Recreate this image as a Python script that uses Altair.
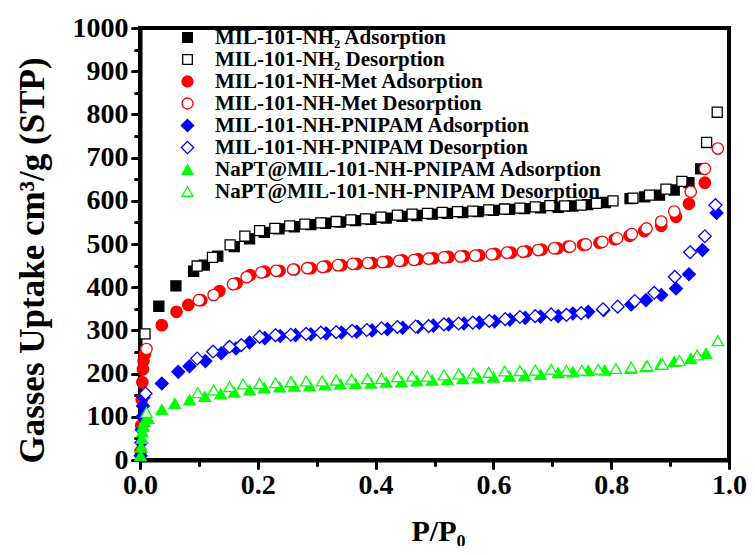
import altair as alt
import pandas as pd

FONT = "Liberation Serif"

names = [
    "MIL-101-NH₂ Adsorption",
    "MIL-101-NH₂ Desorption",
    "MIL-101-NH-Met Adsorption",
    "MIL-101-NH-Met Desorption",
    "MIL-101-NH-PNIPAM Adsorption",
    "MIL-101-NH-PNIPAM Desorption",
    "NaPT@MIL-101-NH-PNIPAM Adsorption",
    "NaPT@MIL-101-NH-PNIPAM Desorption",
]
SQ = "M-0.88,-0.88L0.88,-0.88L0.88,0.88L-0.88,0.88Z"
DI = "M0,-1.12L1.12,0L0,1.12L-1.12,0Z"
shapes = [SQ, SQ, "circle", "circle", DI, DI, "triangle-up", "triangle-up"]
strokes = ["#000000", "#000000", "#ff0000", "#ff0000", "#0000ff", "#0000ff", "#00ff00", "#00ff00"]
fills = ["#000000", "#ffffff", "#ff0000", "#ffffff", "#0000ff", "#ffffff", "#00ff00", "#ffffff"]

# MIL-101-NH2 adsorption
nh2_ads_x = [0.032, 0.061, 0.091, 0.109, 0.132, 0.16, 0.186, 0.211, 0.236, 0.262, 0.29, 0.315, 0.34,
             0.366, 0.392, 0.418, 0.445, 0.47, 0.496, 0.522, 0.548, 0.574, 0.60, 0.627, 0.653, 0.68,
             0.71, 0.735, 0.76, 0.79, 0.832, 0.857, 0.882, 0.907, 0.932, 0.952]
nh2_ads_y = [356, 403, 437, 451, 472, 494, 512, 527, 535, 540, 545, 548, 551,
             554, 557, 560, 564, 566, 569, 571, 573, 575, 578, 580, 582, 584,
             585, 588, 591, 596, 605, 609, 613, 625, 642, 674]
# MIL-101-NH2 desorption
nh2_des_x = [0.0085, 0.097, 0.123, 0.153, 0.178, 0.203, 0.229, 0.254, 0.280, 0.307, 0.333, 0.358,
             0.383, 0.409, 0.437, 0.462, 0.488, 0.513, 0.539, 0.565, 0.592, 0.619, 0.645, 0.671,
             0.696, 0.721, 0.749, 0.775, 0.803, 0.837, 0.865, 0.893, 0.920, 0.962, 0.980]
nh2_des_y = [292, 449, 469, 498, 518, 531, 536, 542, 546, 549, 552, 556,
             558, 562, 567, 569, 571, 573, 575, 576, 579, 581, 583, 586,
             589, 588, 590, 594, 600, 606, 613, 627, 645, 735, 805]
# MIL-101-NH-Met adsorption
met_ads_x = [0.001, 0.002, 0.003, 0.004, 0.005, 0.006, 0.008,
             0.037, 0.062, 0.082, 0.104, 0.135, 0.164, 0.187, 0.212, 0.237, 0.262, 0.29, 0.316,
             0.342, 0.368, 0.394, 0.42, 0.446, 0.472, 0.498, 0.524, 0.55, 0.576, 0.603, 0.63,
             0.656, 0.682, 0.709, 0.727, 0.752, 0.780, 0.806, 0.831, 0.856, 0.885, 0.910, 0.932, 0.959]
met_ads_y = [20, 80, 140, 180, 210, 230, 245,
             312, 343, 359, 370, 391, 409, 428, 436, 438, 441, 444, 448,
             451, 454, 456, 459, 462, 465, 467, 470, 472, 474, 477, 480,
             483, 487, 490, 494, 498, 503, 511, 519, 530, 542, 563, 593, 642]
# MIL-101-NH-Met desorption
met_des_x = [0.011, 0.10, 0.125, 0.158, 0.181, 0.206, 0.231, 0.260, 0.284, 0.310, 0.336, 0.361,
             0.387, 0.412, 0.440, 0.465, 0.490, 0.516, 0.544, 0.569, 0.597, 0.623, 0.650, 0.676,
             0.703, 0.73, 0.757, 0.785, 0.81, 0.835, 0.86, 0.885, 0.907, 0.935, 0.959, 0.981]
met_des_y = [257, 370, 382, 407, 423, 434, 438, 441, 444, 447, 451, 454,
             456, 458, 461, 463, 466, 469, 471, 473, 476, 480, 482, 486,
             490, 494, 499, 505, 513, 523, 536, 552, 575, 621, 674, 721]
# MIL-101-NH-PNIPAM adsorption
pn_ads_x = [0.001, 0.002, 0.003, 0.004, 0.005, 0.006,
            0.037, 0.065, 0.084, 0.111, 0.138, 0.163, 0.186, 0.212, 0.238, 0.264, 0.29, 0.316,
            0.342, 0.368, 0.394, 0.42, 0.446, 0.472, 0.498, 0.524, 0.55, 0.576, 0.602, 0.628,
            0.654, 0.68, 0.71, 0.735, 0.761, 0.787, 0.834, 0.859, 0.885, 0.910, 0.932, 0.955, 0.979]
pn_ads_y = [10, 40, 70, 100, 125, 145,
            177, 204, 217, 229, 247, 258, 272, 282, 287, 289, 291, 293,
            295, 297, 300, 303, 306, 308, 311, 314, 316, 318, 321, 325,
            329, 332, 333, 339, 343, 347, 360, 370, 382, 397, 430, 486, 572]
# MIL-101-NH-PNIPAM desorption
pn_des_x = [0.0096, 0.097, 0.124, 0.152, 0.172, 0.203, 0.230, 0.256, 0.282, 0.307, 0.333, 0.360,
            0.385, 0.410, 0.437, 0.468, 0.490, 0.516, 0.541, 0.565, 0.593, 0.620, 0.645, 0.671,
            0.698, 0.724, 0.749, 0.786, 0.811, 0.840, 0.873, 0.908, 0.934, 0.959, 0.977]
pn_des_y = [154, 235, 251, 262, 266, 285, 289, 290, 292, 295, 296, 299,
            301, 305, 308, 309, 310, 314, 316, 318, 322, 326, 331, 333,
            337, 336, 340, 349, 355, 368, 387, 424, 481, 518, 590]
# NaPT@MIL-101-NH-PNIPAM adsorption
na_ads_x = [0.001, 0.002, 0.003, 0.004, 0.005, 0.007, 0.014,
            0.037, 0.059, 0.084, 0.110, 0.137, 0.160, 0.186, 0.211, 0.237, 0.262, 0.288, 0.314,
            0.340, 0.366, 0.392, 0.418, 0.444, 0.47, 0.496, 0.522, 0.548, 0.574, 0.60, 0.627,
            0.653, 0.68, 0.71, 0.735, 0.761, 0.789, 0.833, 0.859, 0.884, 0.907, 0.935, 0.961]
na_ads_y = [10, 30, 50, 65, 78, 88, 96,
            117, 131, 139, 147, 153, 157, 162, 167, 169, 171, 172, 174,
            176, 177, 178, 180, 181, 183, 185, 186, 188, 190, 192, 194,
            196, 198, 202, 204, 207, 208, 212, 216, 222, 228, 235, 247]
# NaPT@MIL-101-NH-PNIPAM desorption
na_des_x = [0.011, 0.098, 0.125, 0.152, 0.175, 0.203, 0.230, 0.256, 0.282, 0.309, 0.333, 0.359,
            0.386, 0.410, 0.437, 0.462, 0.488, 0.516, 0.541, 0.566, 0.592, 0.619, 0.645, 0.671,
            0.698, 0.724, 0.750, 0.778, 0.808, 0.834, 0.861, 0.887, 0.916, 0.946, 0.981]
na_des_y = [110, 156, 162, 170, 176, 177, 179, 181, 183, 183, 185, 187,
            188, 189, 193, 194, 194, 197, 199, 201, 203, 206, 207, 208,
            210, 207, 208, 210, 212, 215, 218, 222, 230, 243, 276]

xs = [nh2_ads_x, nh2_des_x, met_ads_x, met_des_x, pn_ads_x, pn_des_x, na_ads_x, na_des_x]
ys = [nh2_ads_y, nh2_des_y, met_ads_y, met_des_y, pn_ads_y, pn_des_y, na_ads_y, na_des_y]

rows = []
for i, (n, xx, yy) in enumerate(zip(names, xs, ys)):
    for a, b in zip(xx, yy):
        rows.append({"series": n, "p": a, "v": b})
df = pd.DataFrame(rows)

x_ticks = [round(i * 0.1, 1) for i in range(11)]
y_ticks = list(range(0, 1001, 50))

points = alt.Chart(df).mark_point(filled=False, strokeWidth=1.3, opacity=1, size=130).encode(
    x=alt.X("p:Q", scale=alt.Scale(domain=[0, 1], nice=False, zero=False),
            axis=alt.Axis(
                values=x_ticks, title="P/P₀",
                labelExpr="round(datum.value*10) % 2 == 0 ? format(datum.value, '.1f') : ''",
                tickSize=alt.condition("round(datum.value*10) % 2 == 0", alt.value(8), alt.value(5)),
                labelOverlap=False, labelFlush=False, labelPadding=3, grid=False,
                titleX=298, titleY=80, titleFontSize=30, titleBaseline="alphabetic",
            )),
    y=alt.Y("v:Q", scale=alt.Scale(domain=[0, 1000], nice=False),
            axis=alt.Axis(
                values=y_ticks, title="Gasses Uptake cm³/g (STP)",
                labelExpr="datum.value % 100 == 0 ? format(datum.value, 'd') : ''",
                tickSize=alt.condition("datum.value % 100 == 0", alt.value(8), alt.value(5)),
                labelOverlap=False, labelFlush=False, labelPadding=4, grid=False,
                titleX=-108, titleY=232, titleFontSize=35, titleBaseline="middle",
                titleAngle=270, titleAlign="center",
            )),
    shape=alt.Shape("series:N", sort=names, scale=alt.Scale(domain=names, range=shapes)),
    fill=alt.Fill("series:N", sort=names, scale=alt.Scale(domain=names, range=fills)),
    color=alt.Color("series:N", sort=names, scale=alt.Scale(domain=names, range=strokes)),
).properties(
    width=589, height=432,
    autosize=alt.AutoSizeParams(type="none"),
    padding={"left": 132, "top": 20, "right": 18, "bottom": 86},
)

chart = points.configure_view(
    stroke="black", strokeWidth=4,
).configure_axis(
    domainColor="black", domainWidth=4, tickColor="black", tickWidth=3, tickCap="round",
    labelFont=FONT, labelFontWeight="bold", labelFontSize=28, labelColor="black",
    titleFont=FONT, titleFontWeight="bold", titleColor="black",
).configure_legend(
    title=None, orient="none", legendX=37, legendY=-1, padding=0,
    labelFont=FONT, labelFontWeight="bold", labelFontSize=21, labelColor="black",
    labelLimit=1000, rowPadding=0, symbolStrokeWidth=1.3, symbolSize=120, labelOffset=17,
)

chart.save("out.html", embed_options={"renderer": "svg", "actions": False})
